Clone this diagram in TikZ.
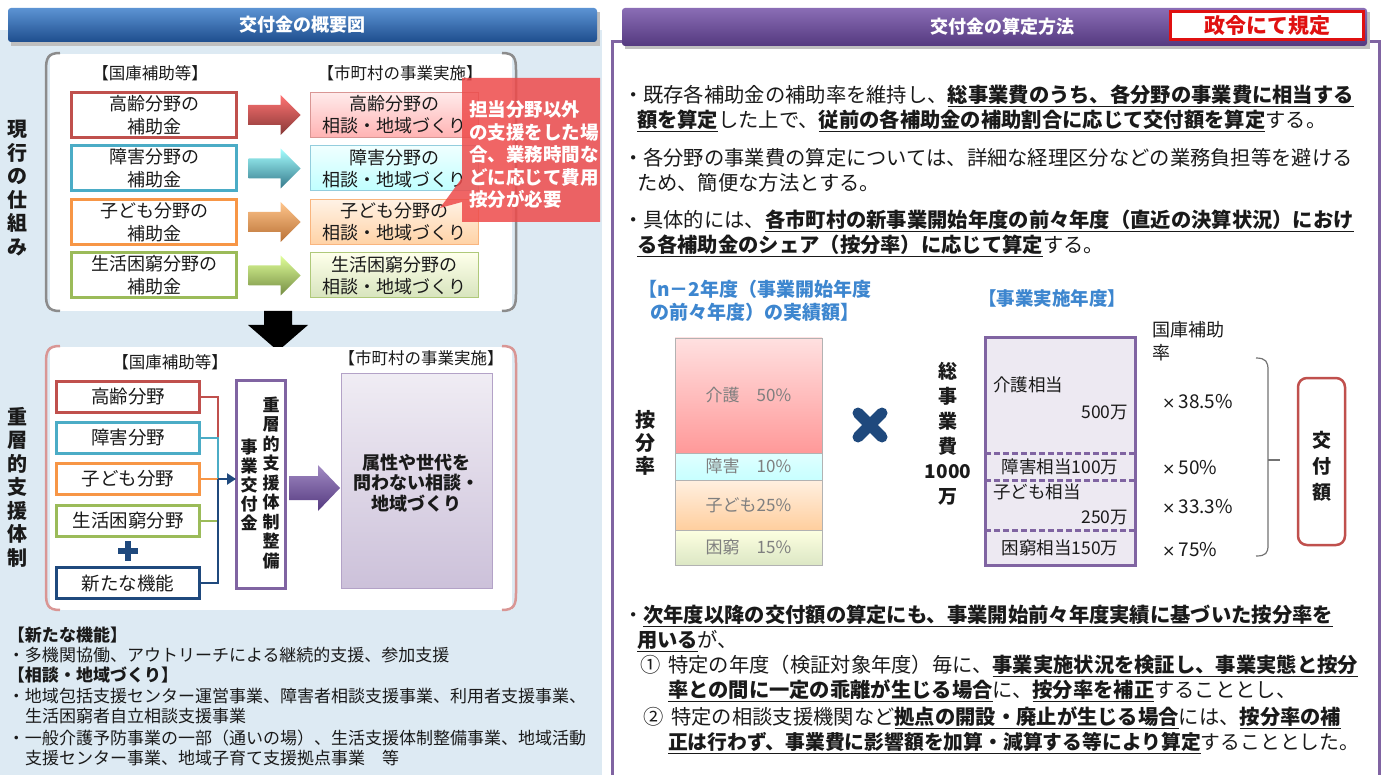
\documentclass[tikz,border=0pt]{standalone}
\usepackage{fontspec}
\setmainfont{Noto Sans CJK JP}
\newfontfamily\dvfont{DejaVu Sans}
\usetikzlibrary{calc,arrows.meta}
\definecolor{bgL}{HTML}{DDEAF3}
\definecolor{hdA}{HTML}{5C93D3}
\definecolor{hdB}{HTML}{1E4E8E}
\definecolor{pvA}{HTML}{8A6DB5}
\definecolor{pvB}{HTML}{54397F}
\definecolor{cR}{HTML}{C0504D}
\definecolor{cT}{HTML}{4BACC6}
\definecolor{cO}{HTML}{F79646}
\definecolor{cG}{HTML}{9BBB59}
\definecolor{cN}{HTML}{1F497D}
\definecolor{cP}{HTML}{8064A2}
\definecolor{lblue}{HTML}{3D86CF}
\definecolor{txt}{HTML}{1A1A1A}
\definecolor{brk}{HTML}{8C8C8C}
\definecolor{brkP}{HTML}{D99694}
\definecolor{callout}{HTML}{EE4B4B}
\definecolor{gtxt}{HTML}{7F7F7F}
\definecolor{redK}{HTML}{E01010}
\newcommand\fsz[2]{\fontsize{#1}{#2}\selectfont}
\newsavebox\ulbox
\newcommand\ulb[1]{\sbox\ulbox{\textbf{#1}}\rlap{\rule[-4.5pt]{\wd\ulbox}{1.3pt}}\usebox\ulbox}
\newcommand\tms{{\dvfont\fontsize{16}{16}\selectfont ×}}
\newcommand\harrow[6]{\shade[#6] #1 -- ++(0,-#3) -- ++({#2-#5},0) -- ++(0,{#3-#4}) -- ++(#5,#4) -- ++(-#5,#4) -- ++(0,{#3-#4}) -- ++({-(#2-#5)},0) -- cycle;}
\tikzset{
 obox/.style={draw=#1, line width=3pt, fill=white, minimum width=165pt, minimum height=45pt, align=center, font=\fsz{18}{23}},
 sbox/.style n args={3}{draw=#1, line width=1pt, top color=#2, bottom color=#3, minimum width=168pt, minimum height=45pt, align=center, font=\fsz{18}{22}},
 nbox/.style={draw=#1, line width=3pt, fill=white, minimum width=143pt, minimum height=31pt, font=\fsz{18.5}{22}},
 vtxt/.style={align=center, font=\bfseries\fsz{20}{23.5}},
 lbl/.style={font=\fsz{16.5}{20}},
 bodyR/.style={anchor=base west, font=\fsz{20.3}{24}},
 bodyL/.style={anchor=base west, font=\fsz{17}{20}},
 seg/.style n args={2}{draw=black!30, line width=0.6pt, top color=#1, bottom color=#2, minimum width=147pt, font=\fsz{17}{20}, text=gtxt},
 rtx/.style={font=\fsz{17.5}{20}},
 mul/.style={anchor=west, font=\fsz{19}{22}},
 conn/.style={draw=#1, line width=2.5pt},
}
\begin{document}
\begin{tikzpicture}[x=1pt,y=-1pt, every node/.style={inner sep=0pt, outer sep=0pt, text=txt}]
\useasboundingbox (0,0) rectangle (1386,775);
\fill[white] (0,0) rectangle (1386,775);
% ---------- LEFT PANEL ----------
\fill[bgL] (0,30) rectangle (602,775);
\fill[black!25] (11,12) rectangle (600,46);
\shade[top color=hdA, bottom color=hdB, rounded corners=3pt] (8,8) rectangle (597,42);
\node[text=white, font=\bfseries\fsz{18}{20}] (hL) at (302,25) {交付金の概要図};

% top section
\fill[white] (50,54) rectangle (512,311);
\draw[brk, line width=2.5pt] (60,53) .. controls (48,53) and (46,58) .. (46,70) -- (46,294) .. controls (46,306) and (48,311) .. (60,311);
\draw[brk, line width=2.5pt] (502,53) .. controls (514,53) and (516,58) .. (516,70) -- (516,294) .. controls (516,306) and (514,311) .. (502,311);
\node[vtxt] (vl1) at (18,188) {現\\行\\の\\仕\\組\\み};
\node[lbl] (k1) at (150,73) {【国庫補助等】};
\node[lbl] (m1) at (400,73) {【市町村の事業実施】};

\node[obox=cR] (g1) at (154,115) {高齢分野の\\補助金};
\node[obox=cT] (g2) at (154,168.5) {障害分野の\\補助金};
\node[obox=cO] (g3) at (154,222) {子ども分野の\\補助金};
\node[obox=cG] (g4) at (154,275.5) {生活困窮分野の\\補助金};

\node[sbox={cR!60}{red!8}{red!30}] (s1) at (394,115) {高齢分野の\\相談・地域づくり};
\node[sbox={cT!60}{cyan!6}{cyan!25}] (s2) at (394,168.5) {障害分野の\\相談・地域づくり};
\node[sbox={cO!70}{orange!10}{orange!35}] (s3) at (394,222) {子ども分野の\\相談・地域づくり};
\node[sbox={cG!80}{green!6!yellow!8}{cG!40}] (s4) at (394,275.5) {生活困窮分野の\\相談・地域づくり};

\harrow{($(g1.east)+(12,0)$)}{52}{10}{20}{20}{top color=red!55, middle color=cR!90, bottom color=cR!70!black}
\harrow{($(g2.east)+(12,0)$)}{52}{10}{20}{20}{top color=cyan!35, middle color=cT, bottom color=cT!70!black}
\harrow{($(g3.east)+(12,0)$)}{52}{10}{20}{20}{top color=orange!45, middle color=cO, bottom color=cO!75!black}
\harrow{($(g4.east)+(12,0)$)}{52}{10}{20}{20}{top color=green!30!yellow!40, middle color=cG, bottom color=cG!75!black}

% callout
\fill[callout, opacity=0.85] (462,78) -- (600,78) -- (600,222) -- (462,222) -- (462,202) -- (440,208) -- (462,178) -- cycle;
\node[anchor=west, align=left, text=white, font=\bfseries\fsz{18.5}{22.5}] (co) at (469,155) {担当分野以外\\の支援をした場\\合、業務時間な\\どに応じて費用\\按分が必要};

% black down arrow
\coordinate (da) at (278,311);
\fill[black] (da) ++(-14,0) -- ++(28,0) -- ++(0,14) -- ++(16,0) -- ++(-30,26) -- ++(-30,-26) -- ++(16,0) -- cycle;

% bottom section
\fill[white] (50,347) rectangle (512,610);
\draw[brkP, line width=2.5pt] (60,346) .. controls (48,346) and (46,351) .. (46,363) -- (46,593) .. controls (46,605) and (48,610) .. (60,610);
\draw[brkP, line width=2.5pt] (502,346) .. controls (514,346) and (516,351) .. (516,363) -- (516,593) .. controls (516,605) and (514,610) .. (502,610);
\node[vtxt] (vl2) at (18,487) {重\\層\\的\\支\\援\\体\\制};
\node[lbl] (k2) at (170,362) {【国庫補助等】};
\node[lbl] (m2) at (421,358) {【市町村の事業実施】};

\node[nbox=cR] (h1) at (128,397) {高齢分野};
\node[nbox=cT] (h2) at (128,438) {障害分野};
\node[nbox=cO] (h3) at (128,479) {子ども分野};
\node[nbox=cG] (h4) at (128,521) {生活困窮分野};
\node[nbox=cN] (h5) at (128,583) {新たな機能};
\draw[cN, line width=6pt] (118,551) -- (138,551) (128,541) -- (128,561);

\node[draw=cP, line width=3pt, fill=white, minimum width=49pt, minimum height=208pt] (pv) at (260.5,484) {};
\node[align=center, font=\bfseries\fsz{17}{19.5}] (pvt1) at (271,483) {重\\層\\的\\支\\援\\体\\制\\整\\備};
\node[align=center, font=\bfseries\fsz{17}{19}] (pvt2) at (249,485) {事\\業\\交\\付\\金};

\coordinate (jn) at (218,479);
\draw[conn=cR] (h1.east) -| (jn);
\draw[conn=cT] (h2.east) -| (jn);
\draw[conn=cO] (h3.east) -- (jn);
\draw[conn=cG] (h4.east) -| (jn);
\draw[conn=cN] (h5.east) -| (jn);
\draw[cN, line width=2.5pt, -{Triangle[length=9pt,width=11pt]}] (jn) -- (jn -| pv.west);

\node[draw=cP!60, line width=1pt, top color=cP!12, bottom color=cP!40, minimum width=151pt, minimum height=215pt] (pb) at (416.5,480.5) {};
\node[align=center, font=\bfseries\fsz{18}{20.5}] (pbt) at (416,483) {属性や世代を\\問わない相談・\\地域づくり};
\harrow{($(pv.east)+(4,4)$)}{51}{12}{23}{22}{top color=pvA!80, middle color=cP, bottom color=pvB}

% notes
\node[bodyL] (n1) at (8,641.5) {\textbf{【新たな機能】}};
\node[bodyL] (n2) at (8,661.5) {・多機関協働、アウトリーチによる継続的支援、参加支援};
\node[bodyL] (n3) at (8,681.5) {\textbf{【相談・地域づくり】}};
\node[bodyL] (n4) at (8,702.5) {・地域包括支援センター運営事業、障害者相談支援事業、利用者支援事業、};
\node[bodyL] (n5) at (25,722.5) {生活困窮者自立相談支援事業};
\node[bodyL] (n6) at (8,744.5) {・一般介護予防事業の一部（通いの場）、生活支援体制整備事業、地域活動};
\node[bodyL] (n7) at (25,764.5) {支援センター事業、地域子育て支援拠点事業　等};

% ---------- RIGHT PANEL ----------
\draw[cP, line width=3pt] (612,775) -- (612,42) -- (1379,42) -- (1379,775);
\fill[black!25] (625,12) rectangle (1370,49);
\shade[top color=pvA, bottom color=pvB, rounded corners=3pt] (622,8) rectangle (1367,46);
\node[text=white, font=\bfseries\fsz{18}{20}] (hR) at (1002,27) {交付金の算定方法};
\node[draw=redK, line width=3pt, fill=white, minimum width=193pt, minimum height=28pt, text=redK, font=\bfseries\fsz{21}{22}] (sei) at (1267,26) {政令にて規定};

\node[bodyR] (r1) at (623,102.5) {・既存各補助金の補助率を維持し、\ulb{総事業費のうち、各分野の事業費に相当する}};
\node[bodyR] (r2) at (637,127.5) {\ulb{額を算定}した上で、\ulb{従前の各補助金の補助割合に応じて交付額を算定}する。};
\node[bodyR] (r3) at (623,165.5) {・各分野の事業費の算定については、詳細な経理区分などの業務負担等を避ける};
\node[bodyR] (r4) at (637,190.5) {ため、簡便な方法とする。};
\node[bodyR] (r5) at (623,227.5) {・具体的には、\ulb{各市町村の新事業開始年度の前々年度（直近の決算状況）におけ}};
\node[bodyR] (r6) at (637,252.5) {\ulb{る各補助金のシェア（按分率）に応じて算定}する。};

% chart
\node[align=center, text=lblue, font=\bfseries\fsz{19}{23}] (t1) at (755,301) {【n－2年度（事業開始年度\\の前々年度）の実績額】};
\node[text=lblue, font=\bfseries\fsz{18.5}{20}] (t2) at (1052,298) {【事業実施年度】};
\node[anchor=north west, align=left, font=\fsz{18}{23}] (t3) at (1152,321) {国庫補助\\率};

\node[align=center, font=\bfseries\fsz{20}{23}] (anb) at (645,443) {按\\分\\率};
\node[seg={red!12}{red!40}, minimum height=115pt] (sg1) at (748.5,395.5) {介護　50\%};
\node[seg={cyan!12}{cyan!22}, minimum height=27pt] (sg2) at (748.5,466.5) {障害　10\%};
\node[seg={orange!12}{orange!38}, minimum height=50pt] (sg3) at (748.5,505) {子ども25\%};
\node[seg={green!6!yellow!12}{cG!35}, minimum height=35pt] (sg4) at (748.5,547.5) {困窮　15\%};

\draw[cN, line width=11pt, line cap=round] (858,413) -- (882,437) (882,413) -- (858,437);

\node[align=center, font=\bfseries\fsz{19}{25}] (tot) at (948,434) {総\\事\\業\\費\\1000\\万};

\node[draw=cP, line width=3pt, fill=cP!14, minimum width=150pt, minimum height=227pt] (rb) at (1060,451.5) {};
\draw[cP, line width=3pt, dash pattern=on 6pt off 3pt] (rb.west |- 0,453) -- (rb.east |- 0,453);
\draw[cP, line width=3pt, dash pattern=on 6pt off 3pt] (rb.west |- 0,480) -- (rb.east |- 0,480);
\draw[cP, line width=3pt, dash pattern=on 6pt off 3pt] (rb.west |- 0,530) -- (rb.east |- 0,530);
\node[rtx, anchor=west] (q1) at (993,385) {介護相当};
\node[rtx, anchor=east] (q1b) at (1128,413) {500万};
\node[rtx] (q2) at (1060,467) {障害相当100万};
\node[rtx, anchor=west] (q3) at (993,492) {子ども相当};
\node[rtx, anchor=east] (q3b) at (1128,518) {250万};
\node[rtx] (q4) at (1060,548) {困窮相当150万};

\node[mul] (x1) at (1162,402) {\tms\,38.5\%};
\node[mul] (x2) at (1162,468) {\tms\,50\%};
\node[mul] (x3) at (1162,507) {\tms\,33.3\%};
\node[mul] (x4) at (1162,550) {\tms\,75\%};

\draw[black!55, line width=1.2pt] (1256,358) .. controls (1266,358) and (1268,362) .. (1268,370) -- (1268,545) .. controls (1268,553) and (1266,556) .. (1256,556);
\draw[black!55, line width=1.2pt] (1268,460) -- (1280,460);

\node[draw=cR, line width=2.5pt, fill=white, rounded corners=9pt, minimum width=47pt, minimum height=167pt] (kf) at (1321.5,461.5) {};
\node[align=center, font=\bfseries\fsz{19}{26}] (kft) at (1322,466) {交\\付\\額};

% bottom text
\node[bodyR] (b1) at (623,622.5) {・\ulb{次年度以降の交付額の算定にも、事業開始前々年度実績に基づいた按分率を}};
\node[bodyR] (b2) at (637,647.5) {\ulb{用いる}が、};
\node[bodyR] (b3) at (640,672.5) {①\hspace{8pt}特定の年度（検証対象年度）毎に、\ulb{事業実施状況を検証し、事業実態と按分}};
\node[bodyR] (b4) at (668,697.5) {\ulb{率との間に一定の乖離が生じる場合}に、\ulb{按分率を補正}することとし、};
\node[bodyR] (b5) at (643,724.5) {②\hspace{8pt}特定の相談支援機関など\ulb{拠点の開設・廃止が生じる場合}には、\ulb{按分率の補}};
\node[bodyR, font=\fsz{19.8}{24}] (b6) at (668,749.5) {\ulb{正は行わず、事業費に影響額を加算・減算する等により算定}することとした。};
\end{tikzpicture}
\end{document}
